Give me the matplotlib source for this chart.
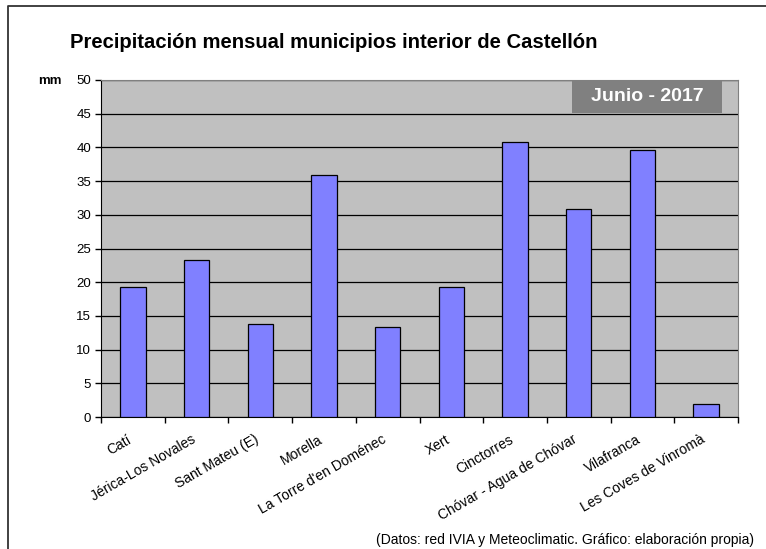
import matplotlib
matplotlib.use('Agg')
import matplotlib.pyplot as plt
import matplotlib.transforms as mtransforms
import numpy as np
from matplotlib.patches import Rectangle
from matplotlib.lines import Line2D

plt.rcParams['font.family'] = ['Liberation Sans', 'DejaVu Sans']

municipios = ['Catí', 'Jérica-Los Novales', 'Sant Mateu (E)', 'Morella',
              "La Torre d'en Doménec", 'Xert', 'Cinctorres',
              'Chóvar - Agua de Chóvar', 'Vilafranca', 'Les Coves de Vinromà']
precip = [19.3, 23.3, 13.8, 35.9, 13.4, 19.3, 40.8, 30.9, 39.6, 1.9]
yticks = [0, 5, 10, 15, 20, 25, 30, 35, 40, 45, 50]

fig = plt.figure(figsize=(7.66, 5.49), dpi=100)
fig.patch.set_facecolor('white')

# marco exterior (solo arriba e izquierda)
fig.lines.append(Line2D([8/766, 8/766, 1.0], [0.0, 1 - 6/549, 1 - 6/549],
                        transform=fig.transFigure, color='#333333',
                        linewidth=1.3))

ax = fig.add_axes([101/766, 1 - 417/549, 637/766, 337/549])
ax.set_facecolor('#C0C0C0')

x = np.arange(len(municipios))
ax.bar(x, precip, width=0.4, color='#8080FF', edgecolor='black',
       linewidth=0.9, zorder=3)

ax.set_xlim(-0.5, len(municipios) - 0.5)
ax.set_ylim(0, 50)
ax.set_yticks(yticks)
ax.set_yticklabels([str(v) for v in yticks], fontsize=9.5)
ax.yaxis.grid(True, color='black', linewidth=0.9, zorder=1)
ax.set_axisbelow(True)

ax.set_xticks(x)
ax.set_xticklabels(municipios, rotation=30, ha='right',
                   rotation_mode='anchor', fontsize=10)
ax.tick_params(axis='x', which='major', length=0, pad=11)
offset = mtransforms.ScaledTranslation(-6/100, 0, fig.dpi_scale_trans)
for lbl in ax.get_xticklabels():
    lbl.set_transform(lbl.get_transform() + offset)
ax.set_xticks(np.arange(-0.5, len(municipios), 1), minor=True)
ax.tick_params(axis='x', which='minor', length=4, width=1, color='black')
ax.tick_params(axis='y', length=4, width=1, pad=3)

for s in ['top', 'right']:
    ax.spines[s].set_color('#808080')
for s in ['left', 'bottom']:
    ax.spines[s].set_color('black')

# recuadro de fecha
ax.add_patch(Rectangle((0.739, 0.902), 0.236, 0.098, transform=ax.transAxes,
                       facecolor='#808080', edgecolor='none', zorder=5))
ax.text(0.857, 0.951, 'Junio - 2017', transform=ax.transAxes,
        ha='center', va='center', fontsize=14, fontweight='bold',
        color='white', zorder=6)

fig.text(70/766, 1 - 42/549, 'Precipitación mensual municipios interior de Castellón',
         fontsize=14.6, fontweight='bold', ha='left', va='center')
fig.text(38/766, 1 - 81/549, 'mm', fontsize=9.5, fontweight='bold',
         ha='left', va='center')
fig.text(754/766, 1 - 540/549,
         '(Datos: red IVIA y Meteoclimatic. Gráfico: elaboración propia)',
         fontsize=10, ha='right', va='center')

fig.savefig('out.png', dpi=100)
